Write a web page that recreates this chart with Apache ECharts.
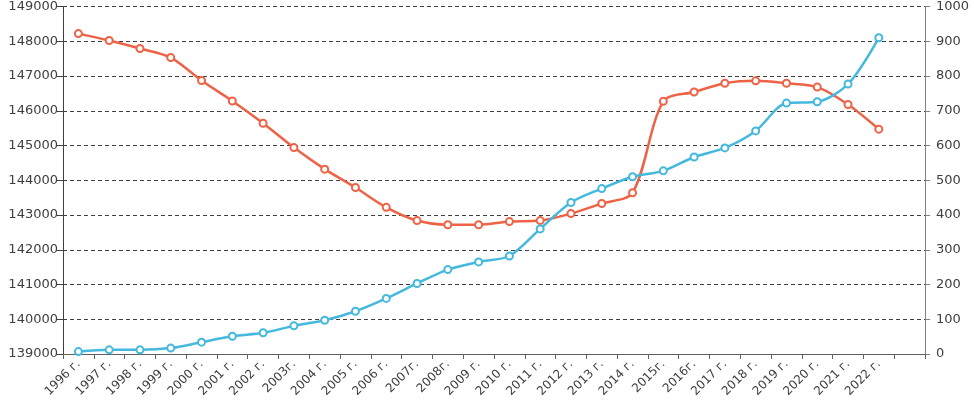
<!DOCTYPE html>
<html>
<head>
<meta charset="utf-8">
<script src="https://cdn.jsdelivr.net/npm/echarts@6/dist/echarts.min.js"></script>
<style>
  html, body { margin: 0; padding: 0; background: #fff; }
  #chart { width: 974px; height: 411px; }
</style>
</head>
<body>
<div id="chart"></div>
<script>
// подписи по оси X (последняя категория пустая, как в исходнике)
const years = ['1996 г.', '1997 г.', '1998 г.', '1999 г.', '2000 г.', '2001 г.', '2002 г.', '2003г.', '2004 г.',
    '2005 г.', '2006 г.', '2007г.', '2008г.', '2009 г.', '2010 г.', '2011 г.', '2012 г.', '2013 г.', '2014 г.',
    '2015г.', '2016г.', '2017 г.', '2018 г.', '2019 г.', '2020 г.', '2021 г.', '2022 г.', ''];

// левая ось
const population = [148220, 148020, 147790, 147530, 146870, 146280, 145640, 144940, 144320, 143790, 143220,
    142840, 142720, 142720, 142810, 142840, 143040, 143330, 143640, 146270, 146540, 146790, 146860, 146790,
    146680, 146180, 145470];

// правая ось
const second = [7, 12, 12, 17, 34, 51, 61, 81, 97, 123, 160, 203, 243, 265, 282, 360, 436, 476, 510, 527,
    567, 593, 642, 722, 726, 777, 910];

const leftTicks = { min: 139000, max: 149000, step: 1000 };
const rightTicks = { min: 0, max: 1000, step: 100 };

const chart = echarts.init(document.getElementById('chart'), null, { renderer: 'canvas' });

const labelFont = { fontFamily: 'DejaVu Sans', fontSize: 13, color: '#404040' };

const option = {
    animation: false,
    grid: { left: 63, right: 49, top: 5, bottom: 57 },
    xAxis: {
        type: 'category',
        data: years,
        boundaryGap: true,
        axisLine: { lineStyle: { color: '#606060', width: 1 } },
        axisTick: { show: true, interval: 0, length: 5, lineStyle: { color: '#606060' } },
        axisLabel: {
            interval: 0,
            rotate: 45,
            margin: 8,
            fontFamily: 'DejaVu Sans',
            fontSize: 12,
            color: '#404040'
        }
    },
    yAxis: [
        {
            type: 'value',
            min: leftTicks.min,
            max: leftTicks.max,
            interval: leftTicks.step,
            axisLine: { show: true, lineStyle: { color: '#404040' } },
            axisTick: { show: true, length: 6, lineStyle: { color: '#404040' } },
            axisLabel: Object.assign({ margin: 5, formatter: v => String(v) }, labelFont),
            splitLine: { show: true, lineStyle: { color: '#404040', type: [4, 3], width: 1 } }
        },
        {
            type: 'value',
            min: rightTicks.min,
            max: rightTicks.max,
            interval: rightTicks.step,
            position: 'right',
            axisLine: { show: true, lineStyle: { color: '#808080' } },
            axisTick: { show: true, length: 5, lineStyle: { color: '#808080' } },
            axisLabel: Object.assign({ margin: 11, formatter: v => String(v) }, labelFont),
            splitLine: { show: false }
        }
    ],
    series: [
        {
            name: 'population',
            type: 'line',
            yAxisIndex: 0,
            data: population,
            smooth: 0.3,
            symbol: 'emptyCircle',
            symbolSize: 7,
            lineStyle: { color: '#ee6346', width: 2.5 },
            itemStyle: { color: '#ee6346', borderWidth: 2 }
        },
        {
            name: 'second',
            type: 'line',
            yAxisIndex: 1,
            data: second,
            smooth: 0.3,
            symbol: 'emptyCircle',
            symbolSize: 7,
            lineStyle: { color: '#44b9dd', width: 2.5 },
            itemStyle: { color: '#44b9dd', borderWidth: 2 }
        }
    ]
};

chart.setOption(option);
</script>
</body>
</html>
